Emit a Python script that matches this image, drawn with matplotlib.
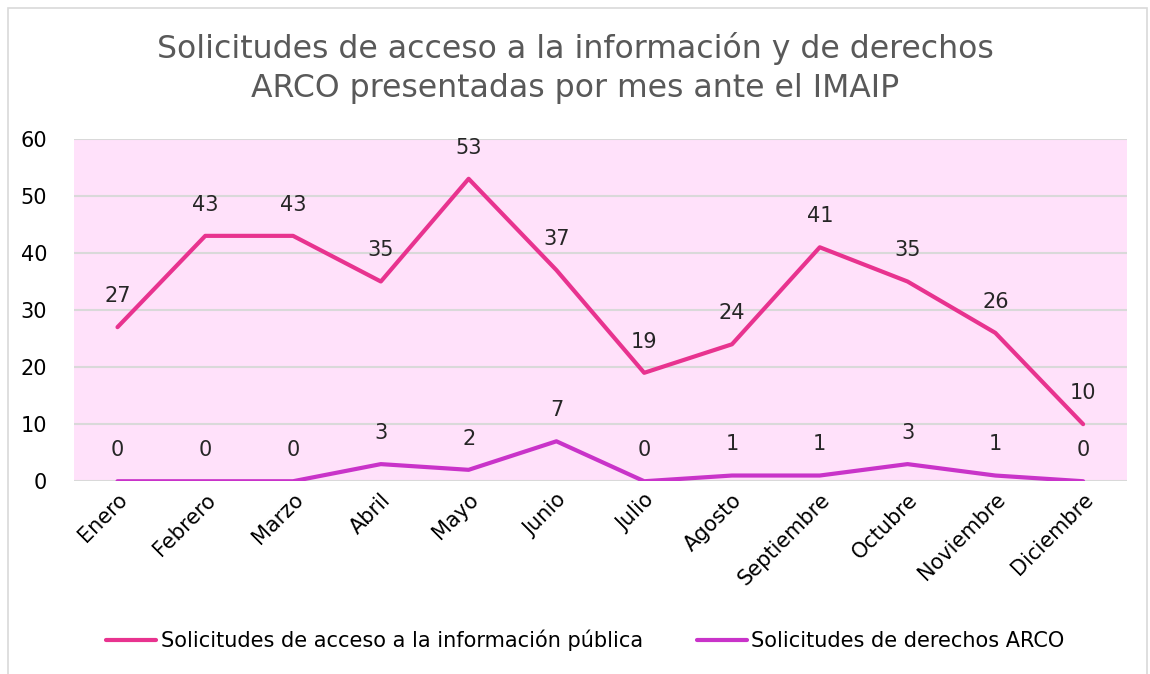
import numpy as np
import matplotlib.pyplot as plt
from matplotlib.patches import Rectangle

# data
meses = ['Enero', 'Febrero', 'Marzo', 'Abril', 'Mayo', 'Junio', 'Julio',
         'Agosto', 'Septiembre', 'Octubre', 'Noviembre', 'Diciembre']
acceso = [27, 43, 43, 35, 53, 37, 19, 24, 41, 35, 26, 10]
arco   = [0, 0, 0, 3, 2, 7, 0, 1, 1, 3, 1, 0]
yticks = [0, 10, 20, 30, 40, 50, 60]

col_acceso = '#E8338F'
col_arco   = '#C933C9'

plt.rcParams['font.family'] = ['DejaVu Sans']

fig = plt.figure(figsize=[11.5, 6.74], dpi=100)
fig.patches.append(Rectangle((0.007, -0.01), 0.99, 0.998, transform=fig.transFigure,
                             fill=False, edgecolor='#D9D9D9', linewidth=1.2))
ax = fig.add_axes([0.064, 0.286, 0.916, 0.508])
ax.set_facecolor('#FFE1FA')

x = np.arange(len(meses))
ax.plot(x, acceso, color=col_acceso, linewidth=3.0, solid_capstyle='round',
        label='Solicitudes de acceso a la información pública', zorder=3)
ax.plot(x, arco, color=col_arco, linewidth=3.0, solid_capstyle='round',
        label='Solicitudes de derechos ARCO', zorder=3)

for xi, v in zip(x, acceso):
    ax.annotate(str(v), (xi, v), xytext=(0, 22.5), textcoords='offset points',
                ha='center', va='center', fontsize=15, color='#262626')
for xi, v in zip(x, arco):
    ax.annotate(str(v), (xi, v), xytext=(0, 22.5), textcoords='offset points',
                ha='center', va='center', fontsize=15, color='#262626')

ax.set_xlim(-0.5, len(meses) - 0.5)
ax.set_ylim(0, 60)
ax.set_yticks(yticks)
ax.set_xticks(x)
ax.set_xticklabels(meses, rotation=45, ha='right', rotation_mode='anchor', fontsize=15)
ax.tick_params(axis='y', labelsize=15, length=0, pad=19)
ax.tick_params(axis='x', length=0, pad=6)
ax.grid(axis='y', color='#D9D9D9', linewidth=1.5)
ax.set_axisbelow(True)
for s in ax.spines.values():
    s.set_visible(False)

fig.text(0.5, 0.899, 'Solicitudes de acceso a la información y de derechos\nARCO presentadas por mes ante el IMAIP',
         ha='center', va='center', fontsize=22.7, color='#595959', linespacing=1.33)

fig.legend(loc='center', bbox_to_anchor=(0.509, 0.05), ncol=2, frameon=False,
           fontsize=15, handlelength=2.4, handletextpad=0.2, columnspacing=2.6)

fig.savefig('out.png', dpi=100)
